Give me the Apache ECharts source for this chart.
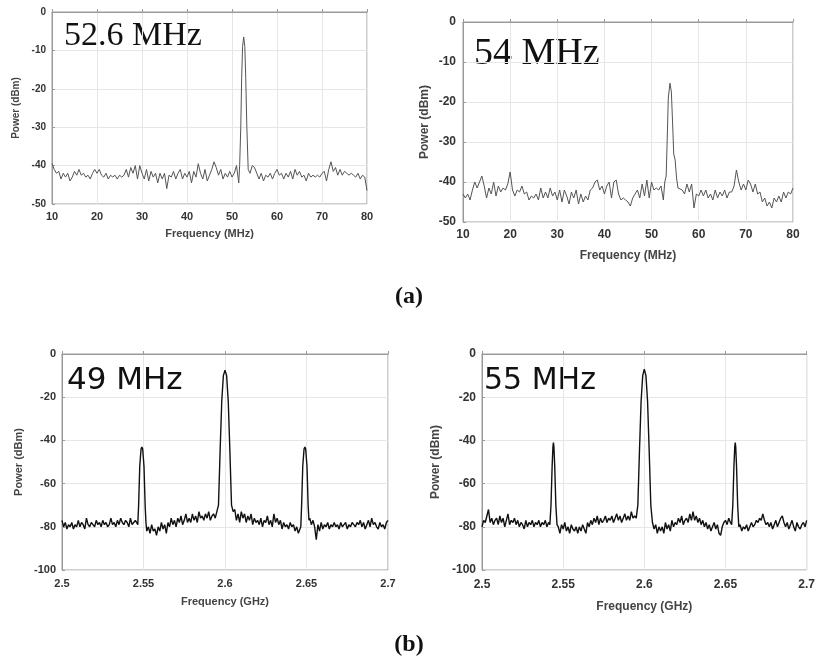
<!DOCTYPE html>
<html><head><meta charset="utf-8">
<script src="https://cdn.jsdelivr.net/npm/echarts@6/dist/echarts.min.js"></script>
<style>html,body{margin:0;padding:0;background:#fff}#c{width:818px;height:663px}</style>
</head><body><div id="c"></div>
<script>
// ---------- Panel (a) left: 52.6 MHz ----------
const p1NoiseAStart = 10.0, p1NoiseBStart = 54.0, p1Step = 0.5;
const p1NoiseA = [
  -39.5,-41,-42,-41.5,-43.5,-42,-43,-42,-44,-43,
  -41.5,-42.5,-41,-42.5,-42,-43,-42.5,-43.5,-42,-41,
  -42,-41,-42.5,-43,-42,-43.5,-42.5,-43,-42.5,-43.5,
  -42.5,-43,-42.5,-41,-43,-40.5,-42,-40,-43.5,-40,
  -42,-43.5,-41,-44,-41.5,-43,-42,-44.5,-42,-43.5,
  -42,-46,-42.5,-43,-41.5,-43.5,-42,-41,-43.5,-42,
  -43,-41.5,-44.5,-41.5,-43,-39.5,-42,-43.5,-41,-44,
  -42.5,-41,-39,-40.5,-42.5,-41,-43.5,-42,-43,-41.5,
  -43,-42,-40,-44.5
];
const p1PeakFreq  = [51.7, 51.95, 52.15, 52.35, 52.6, 52.85, 53.05, 53.3, 53.6];
const p1PeakPower = [-40, -30, -17, -9, -6.5, -9, -17, -30, -41];
const p1NoiseB = [
  -42,-40,-40.5,-42,-43.5,-42,-44,-42.5,-43,-42,
  -43.5,-42,-41,-42.5,-42,-43.5,-42,-43,-41.5,-43.5,
  -41,-42.5,-41.5,-43,-42.5,-44,-42,-43,-42.5,-43,
  -42.5,-43,-42,-41.5,-44,-41,-39,-41.5,-40.5,-42.5,
  -41,-42.5,-41.5,-42,-42.5,-42,-42.5,-43,-42,-43.5,
  -42.5,-43,-46.5
];

// ---------- Panel (a) right: 54 MHz ----------
const p2NoiseAStart = 10.0, p2NoiseBStart = 56.0, p2Step = 0.5;
const p2NoiseA = [
  -43,-44,-43,-44.5,-42,-40,-41.5,-40,-38.5,-41,
  -44,-41.5,-43,-40,-43.5,-41,-42.5,-41.5,-42,-40.5,
  -37.5,-42,-43.5,-42,-42.5,-41,-43,-42.5,-44.5,-43.5,
  -44,-43,-44.5,-41.5,-44,-42.5,-44,-41.5,-43.5,-42.5,
  -44.5,-42,-45,-42,-43.5,-45.5,-42.5,-44,-42,-45.5,
  -43,-45,-43.5,-44.5,-42,-41.5,-40,-39.5,-42,-41,
  -43,-41,-40,-44,-40,-39.5,-43,-44.5,-44,-44.5,
  -45,-46,-44,-43,-42,-44,-40.5,-43.5,-39.5,-44,
  -40,-42,-41.5,-42,-41,-44.5
];
const p2PeakFreq  = [52.8, 53.1, 53.3, 53.55, 53.9, 54.2, 54.45, 54.7, 55.0, 55.3, 55.6];
const p2PeakPower = [-40, -38.5, -30, -19, -15.3, -17.5, -25, -33, -34.5, -39, -41.5];
const p2NoiseB = [
  -41.5,-42,-43,-40.5,-42.5,-40.5,-46.5,-43,-43.5,-42,
  -43.5,-42,-44,-43,-44.5,-42,-44,-42.5,-43.5,-42,
  -44,-42.5,-42.5,-41,-37,-40,-42,-40.5,-42,-39.5,
  -40.5,-42.5,-40.5,-43,-42.5,-45,-44,-46,-45,-46.5,
  -44,-45,-43.5,-45,-42.5,-44,-42.5,-43,-41.5
];

// ---------- Panel (b) left: 49 MHz ----------
const gStep = 0.001;
const p3Starts = [2.500, 2.552, 2.606, 2.652];
const p3NoiseA = [
  -77,-80,-78,-81,-79,-80,-78,-81,-79,-80,
  -77,-80,-78,-79,-81,-76,-79,-80,-78,-79,
  -80,-77,-79,-78,-80,-77,-79,-78,-80,-79,
  -76,-79,-78,-80,-77,-79,-76,-78,-79,-77,
  -78,-80,-76,-79,-78,-77
];
const p3Peak1Freq  = [2.5465, 2.547, 2.5477, 2.5485, 2.549, 2.5495, 2.5503, 2.551, 2.5515];
const p3Peak1Power = [-79, -70, -52, -44, -43, -44, -52, -70, -78];
const p3NoiseB = [
  -82,-80,-83,-79,-82,-81,-84,-80,
  -82,-78,-81,-79,-83,-78,-80,-76,-79,-77,
  -80,-76,-78,-75,-79,-77,-74,-78,-76,-78,
  -74,-77,-75,-78,-73,-76,-75,-77,-74,-76,
  -73,-77,-75,-74,-76
];
const p3Peak2Freq  = [2.595, 2.596, 2.597, 2.598, 2.599, 2.600, 2.601, 2.602, 2.603, 2.604, 2.605];
const p3Peak2Power = [-76, -70, -45, -22, -10, -7.5, -10, -22, -45, -70, -73];
const p3NoiseC = [
  -72,-77,-74,-78,
  -73,-76,-74,-78,-75,-77,-74,-79,-76,-78,
  -77,-79,-76,-80,-77,-78,-75,-79,-77,-80,
  -74,-78,-76,-79,-77,-81,-78,-80,-79,-81,
  -78,-80,-79,-82,-80,-83
];
const p3Peak3Freq  = [2.6465, 2.647, 2.6477, 2.6485, 2.649, 2.6495, 2.6503, 2.651, 2.6515];
const p3Peak3Power = [-80, -70, -52, -44, -43, -44, -52, -70, -77];
const p3NoiseD = [
  -76,-79,-77,-80,-86,-79,-82,-78,
  -81,-79,-80,-78,-81,-79,-80,-78,-80,-79,
  -81,-78,-80,-79,-78,-81,-79,-80,-78,-79,
  -80,-78,-79,-77,-80,-78,-81,-79,-77,-80,
  -76,-79,-78,-80,-81,-78,-80,-79,-81,-78,-77
];

// ---------- Panel (b) right: 55 MHz ----------
const p4Starts = [2.500, 2.547, 2.606, 2.659];
const p4NoiseA = [
  -80,-77,-78,-75,-72,-78,-76,-79,-77,-76,
  -79,-75,-78,-76,-80,-77,-74,-79,-77,-78,
  -76,-79,-77,-80,-78,-79,-81,-77,-80,-78,
  -79,-77,-80,-78,-79,-77,-80,-78,-79,-77,
  -80,-78
];
const p4Peak1Freq  = [2.5418, 2.5425, 2.5432, 2.5437, 2.544, 2.5443, 2.5448, 2.5455, 2.5462];
const p4Peak1Power = [-79, -70, -52, -43, -41, -43, -52, -70, -79];
const p4NoiseB = [
  -80,-83,-79,
  -81,-78,-82,-80,-83,-79,-81,-82,-80,-83,
  -80,-82,-79,-81,-83,-78,-80,-77,-79,-76,
  -78,-75,-79,-76,-78,-77,-75,-78,-76,-77,
  -75,-78,-76,-74,-77,-75,-78,-76,-74,-77,
  -75,-77,-73,-76,-75
];
const p4Peak2Freq  = [2.595, 2.596, 2.597, 2.598, 2.599, 2.600, 2.601, 2.602, 2.603, 2.604, 2.605];
const p4Peak2Power = [-76, -70, -45, -22, -10, -7, -10, -22, -45, -70, -78];
const p4NoiseC = [
  -81,-79,-83,-80,
  -82,-80,-83,-78,-81,-79,-82,-77,-80,-78,
  -79,-76,-78,-75,-79,-77,-76,-78,-74,-77,
  -73,-77,-75,-78,-76,-79,-77,-80,-78,-81,
  -79,-82,-80,-78,-81,-79,-83,-84,-80,-78,
  -77,-79,-76,-78
];
const p4Peak3Freq  = [2.6538, 2.6545, 2.6552, 2.6557, 2.656, 2.6563, 2.6568, 2.6575, 2.6582];
const p4Peak3Power = [-79, -70, -52, -43, -41, -43, -52, -70, -80];
const p4NoiseD = [
  -79,
  -82,-80,-81,-79,-82,-80,-78,-80,-79,-77,
  -78,-76,-77,-74,-77,-79,-78,-80,-78,-81,
  -79,-77,-80,-78,-76,-75,-78,-80,-78,-81,
  -79,-77,-80,-82,-78,-80,-81,-79,-78,-80,-77
];

// ---------- Labels ----------
const annotations = ['52.6 MHz', '54 MHz', '49 MHz', '55 MHz'];
const captions = ['(a)', '(b)'];
const yNameText = 'Power (dBm)';
const xNameMHz = 'Frequency (MHz)';
const xNameGHz = 'Frequency (GHz)';

// ---------- helpers ----------
function seg(start, step, vals) {
  return vals.map((v, i) => [+(start + i * step).toFixed(5), v]);
}
function pairs(fs, ps) { return fs.map((f, i) => [f, ps[i]]); }

const d1 = [...seg(p1NoiseAStart, p1Step, p1NoiseA), ...pairs(p1PeakFreq, p1PeakPower), ...seg(p1NoiseBStart, p1Step, p1NoiseB)];
const d2 = [...seg(p2NoiseAStart, p2Step, p2NoiseA), ...pairs(p2PeakFreq, p2PeakPower), ...seg(p2NoiseBStart, p2Step, p2NoiseB)];
const d3 = [...seg(p3Starts[0], gStep, p3NoiseA), ...pairs(p3Peak1Freq, p3Peak1Power),
            ...seg(p3Starts[1], gStep, p3NoiseB), ...pairs(p3Peak2Freq, p3Peak2Power),
            ...seg(p3Starts[2], gStep, p3NoiseC), ...pairs(p3Peak3Freq, p3Peak3Power),
            ...seg(p3Starts[3], gStep, p3NoiseD)];
const d4 = [...seg(p4Starts[0], gStep, p4NoiseA), ...pairs(p4Peak1Freq, p4Peak1Power),
            ...seg(p4Starts[1], gStep, p4NoiseB), ...pairs(p4Peak2Freq, p4Peak2Power),
            ...seg(p4Starts[2], gStep, p4NoiseC), ...pairs(p4Peak3Freq, p4Peak3Power),
            ...seg(p4Starts[3], gStep, p4NoiseD)];

const FONT = 'Liberation Sans, Arial, sans-serif';
function xAxis(gi, min, max, interval, name, fs, margin, gap, fmt) {
  return {
    type: 'value', gridIndex: gi, min, max, interval,
    name, nameLocation: 'middle', nameGap: gap,
    nameTextStyle: { fontFamily: FONT, fontWeight: 'bold', fontSize: fs, color: '#444' },
    axisLabel: { fontFamily: FONT, fontWeight: 'bold', fontSize: fs, color: '#333', margin, formatter: fmt },
    axisLine: { show: true, lineStyle: { color: '#9a9a9a' } },
    axisTick: { show: true, inside: true, length: 3, lineStyle: { color: '#9a9a9a' } },
    splitLine: { show: true, lineStyle: { color: '#e6e6e6' } }
  };
}
function yAxis(gi, min, max, interval, fs, margin, gap) {
  return {
    type: 'value', gridIndex: gi, min, max, interval,
    name: yNameText, nameLocation: 'middle', nameGap: gap,
    nameTextStyle: { fontFamily: FONT, fontWeight: 'bold', fontSize: fs, color: '#444' },
    axisLabel: { fontFamily: FONT, fontWeight: 'bold', fontSize: fs, color: '#333', margin },
    axisLine: { show: true, lineStyle: { color: '#9a9a9a' } },
    axisTick: { show: true, inside: true, length: 3, lineStyle: { color: '#9a9a9a' } },
    splitLine: { show: true, lineStyle: { color: '#e6e6e6' } }
  };
}
const gfmt = v => String(+v.toFixed(2));

const chart = echarts.init(document.getElementById('c'), null, { renderer: 'canvas' });
chart.setOption({
  animation: false,
  backgroundColor: '#fff',
  grid: [
    { left: 52, top: 12, width: 315, height: 192, show: true, borderColor: '#9a9a9a', borderWidth: 1 },
    { left: 463, top: 22, width: 330, height: 200, show: true, borderColor: '#9a9a9a', borderWidth: 1 },
    { left: 62, top: 354, width: 326, height: 216, show: true, borderColor: '#9a9a9a', borderWidth: 1 },
    { left: 482, top: 354, width: 325, height: 216, show: true, borderColor: '#9a9a9a', borderWidth: 1 }
  ],
  xAxis: [
    xAxis(0, 10, 80, 10, xNameMHz, 11, 7, 24),
    xAxis(1, 10, 80, 10, xNameMHz, 12, 7, 28),
    xAxis(2, 2.5, 2.7, 0.05, xNameGHz, 11, 8, 26, gfmt),
    xAxis(3, 2.5, 2.7, 0.05, xNameGHz, 12, 9, 31, gfmt)
  ],
  yAxis: [
    yAxis(0, -50, 0, 10, 10, 6, 31),
    yAxis(1, -50, 0, 10, 12, 7, 32),
    yAxis(2, -100, 0, 20, 11, 6, 38),
    yAxis(3, -100, 0, 20, 12, 6, 40)
  ],
  series: [
    { type: 'line', xAxisIndex: 0, yAxisIndex: 0, data: d1, showSymbol: false, lineStyle: { color: '#555', width: 1 } },
    { type: 'line', xAxisIndex: 1, yAxisIndex: 1, data: d2, showSymbol: false, lineStyle: { color: '#555', width: 1 } },
    { type: 'line', xAxisIndex: 2, yAxisIndex: 2, data: d3, showSymbol: false, lineStyle: { color: '#111', width: 1.4 } },
    { type: 'line', xAxisIndex: 3, yAxisIndex: 3, data: d4, showSymbol: false, lineStyle: { color: '#111', width: 1.4 } }
  ],
  graphic: [
    { type: 'text', left: 64, top: 19, style: { text: annotations[0], font: '34px "Liberation Serif", "Times New Roman", serif', fill: '#111' } },
    { type: 'text', left: 474, top: 35, style: { text: annotations[1], font: '38px "Liberation Serif", "Times New Roman", serif', fill: '#111' } },
    { type: 'text', left: 67, top: 365, style: { text: annotations[2], font: '31px "DejaVu Sans", sans-serif', fill: '#111' } },
    { type: 'text', left: 484, top: 366, style: { text: annotations[3], font: '30px "DejaVu Sans", sans-serif', fill: '#111' } },
    { type: 'text', left: 'center', top: 285, style: { text: captions[0], font: 'bold 24px "Liberation Serif", "Times New Roman", serif', fill: '#111', textAlign: 'center' } },
    { type: 'text', left: 'center', top: 633, style: { text: captions[1], font: 'bold 24px "Liberation Serif", "Times New Roman", serif', fill: '#111', textAlign: 'center' } }
  ]
});
</script></body></html>
